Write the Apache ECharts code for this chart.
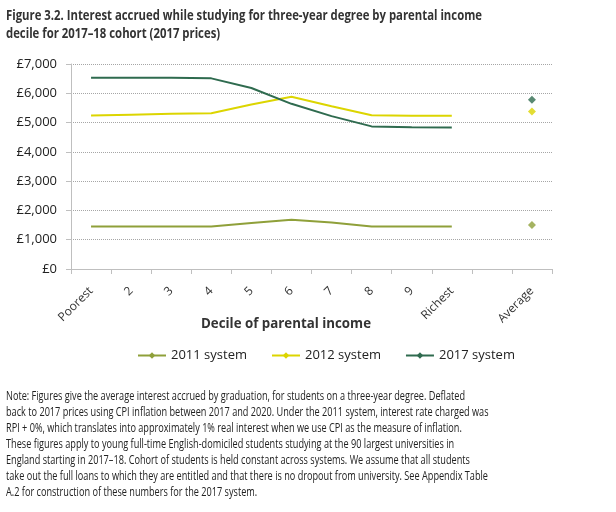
<!DOCTYPE html>
<html>
<head>
<meta charset="utf-8">
<script src="https://cdn.jsdelivr.net/npm/echarts@6/dist/echarts.min.js"></script>
<style>
    html, body { margin: 0; padding: 0; background: #fff; }
    #chart { width: 616px; height: 512px; }
</style>
</head>
<body>
<div id="chart"></div>
<script>
    // categories along the x axis (blank slot before the average)
    var deciles = ['Poorest', '2', '3', '4', '5', '6', '7', '8', '9', 'Richest', '', 'Average'];
    var yTicks = [0, 1000, 2000, 3000, 4000, 5000, 6000, 7000];

    // interest accrued, £ (2017 prices), by decile
    var sys2011 = [1450, 1450, 1450, 1450, 1570, 1680, 1590, 1450, 1450, 1450];
    var sys2012 = [5240, 5270, 5300, 5320, 5620, 5880, 5560, 5250, 5230, 5230];
    var sys2017 = [6530, 6530, 6530, 6510, 6180, 5640, 5220, 4870, 4840, 4830];

    // averages over all deciles
    var avg2011 = 1500;
    var avg2012 = 5380;
    var avg2017 = 5780;

    var names = ['2011 system', '2012 system', '2017 system'];
    var colors = ['#8fa03a', '#dcd500', '#2f6b4f'];

    var titleLines = [
        'Figure 3.2. Interest accrued while studying for three-year degree by parental income',
        'decile for 2017\u201318 cohort (2017 prices)'
    ];
    var noteLines = [
        'Note: Figures give the average interest accrued by graduation, for students on a three-year degree. Deflated',
        'back to 2017 prices using CPI inflation between 2017 and 2020. Under the 2011 system, interest rate charged was',
        'RPI + 0%, which translates into approximately 1% real interest when we use CPI as the measure of inflation.',
        'These figures apply to young full-time English-domiciled students studying at the 90 largest universities in',
        'England starting in 2017\u201318. Cohort of students is held constant across systems. We assume that all students',
        'take out the full loans to which they are entitled and that there is no dropout from university. See Appendix Table',
        'A.2 for construction of these numbers for the 2017 system.'
    ];
    var xName = 'Decile of parental income';

    // the source uses a condensed face; squeeze Open Sans to the same width
    var ctx = document.createElement('canvas').getContext('2d');
    function squeeze(font, text, target) {
        ctx.font = font;
        return target / ctx.measureText(text).width;
    }
    var titleFont = 'bold 15px "Open Sans"';
    var noteFont = '12.5px "Open Sans"';
    var nameFont = 'bold 15px "Open Sans"';

    function lineData(vals) {
        // pad so the line stops at Richest
        return vals.concat(['-', '-']);
    }
    function avgData(v) {
        return [[deciles.length - 1, v]];
    }

    var series = [];
    [sys2011, sys2012, sys2017].forEach(function (vals, i) {
        series.push({
            name: names[i],
            type: 'line',
            data: lineData(vals),
            symbol: 'diamond',
            symbolSize: 8,
            showSymbol: false,
            lineStyle: { width: 2, color: colors[i] },
            itemStyle: { color: colors[i] },
            emphasis: { disabled: true },
            z: i === 1 ? 2 : 3
        });
    });
    [avg2011, avg2012, avg2017].forEach(function (v, i) {
        series.push({
            name: names[i],
            type: 'scatter',
            data: avgData(v),
            symbol: 'diamond',
            symbolSize: 8,
            itemStyle: { color: colors[i] }
        });
    });

    var option = {
        animation: false,
        textStyle: { fontFamily: 'Open Sans' },
        grid: { left: 71, right: 64, top: 64, bottom: 243, containLabel: false },
        legend: {
            data: names,
            left: 132,
            top: 344,
            itemWidth: 28,
            itemHeight: 8,
            itemGap: 24,
            textStyle: { fontSize: 13, color: '#222', fontFamily: 'Open Sans' }
        },
        xAxis: {
            type: 'category',
            data: deciles,
            boundaryGap: true,
            axisLine: { lineStyle: { color: '#bfbfbf', width: 1 } },
            axisTick: { show: true, length: 5, lineStyle: { color: '#bfbfbf' } },
            axisLabel: {
                interval: 0,
                rotate: 45,
                margin: 20,
                fontSize: 12,
                color: '#333'
            }
        },
        yAxis: {
            type: 'value',
            min: yTicks[0],
            max: yTicks[yTicks.length - 1],
            interval: 1000,
            axisLine: { show: true, lineStyle: { color: '#bfbfbf', width: 1 } },
            axisTick: { show: true, length: 5, lineStyle: { color: '#bfbfbf' } },
            splitLine: { lineStyle: { color: '#a6a6a6', type: 'dotted', width: 1 } },
            axisLabel: {
                margin: 14,
                fontSize: 13,
                color: '#222',
                formatter: function (v) {
                    return '\u00a3' + v.toLocaleString('en-GB');
                }
            }
        },
        graphic: [{
            type: 'text',
            x: 6,
            y: 7,
            scaleX: squeeze(titleFont, titleLines[0], 476),
            style: {
                text: titleLines.join('\n'),
                font: titleFont,
                fill: '#333',
                lineHeight: 18,
                verticalAlign: 'top'
            }
        }, {
            type: 'text',
            x: 201,
            y: 316,
            scaleX: squeeze(nameFont, xName, 170),
            style: {
                text: xName,
                font: nameFont,
                fill: '#333',
                verticalAlign: 'top'
            }
        }, {
            type: 'text',
            x: 6,
            y: 388,
            scaleX: squeeze(noteFont, noteLines[0], 459),
            style: {
                text: noteLines.join('\n'),
                font: noteFont,
                fill: '#222',
                lineHeight: 16,
                verticalAlign: 'top'
            }
        }],
        series: series
    };

    var myChart = echarts.init(document.getElementById('chart'));
    myChart.setOption(option);
</script>
</body>
</html>
